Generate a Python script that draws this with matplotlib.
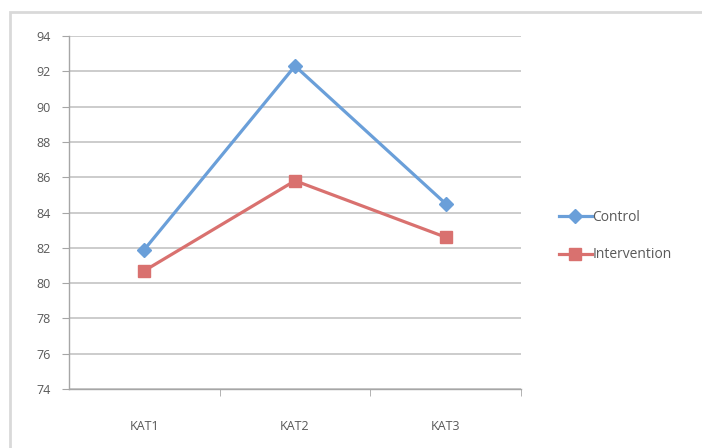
import numpy as np
import matplotlib.pyplot as plt
from matplotlib.patches import Rectangle

categories = ["KAT1", "KAT2", "KAT3"]
control = [81.9, 92.3, 84.5]
intervention = [80.7, 85.8, 82.6]
yticks = list(range(74, 95, 2))

plt.rcParams['font.family'] = ['Open Sans', 'DejaVu Sans']
text_color = "#595959"

fig = plt.figure(figsize=(7.02, 4.48), dpi=100)
# outer chart frame, cut off on the right and bottom
fig.patches.append(Rectangle((10 / 702, -0.05), 1.1, 1 - 12 / 448 + 0.05,
                             transform=fig.transFigure, fill=False,
                             edgecolor="#d9d9d9", linewidth=2))

ax = fig.add_axes([69 / 702, 1 - 389 / 448, (521 - 69) / 702, (389 - 36) / 448])
x = np.arange(1, len(categories) + 1)

ax.plot(x, control, color="#6a9fd9", linewidth=2.3, marker="D", markersize=7,
        label="Control", zorder=3)
ax.plot(x, intervention, color="#d9716f", linewidth=2.3, marker="s", markersize=8,
        label="Intervention", zorder=3)

ax.set_ylim(74, 94)
ax.set_xlim(0.5, len(categories) + 0.5)
ax.set_yticks(yticks)
ax.set_xticks(x)
ax.set_xticklabels(categories)
ax.set_xticks(np.arange(1.5, len(categories) + 0.6, 1), minor=True)

ax.grid(axis="y", color="#c4c4c4", linewidth=1.2)
ax.set_axisbelow(True)
for side in ["top", "right"]:
    ax.spines[side].set_visible(False)
for side in ["left", "bottom"]:
    ax.spines[side].set_color("#a6a6a6")
    ax.spines[side].set_linewidth(1.0)

ax.tick_params(axis="y", length=5, color="#a6a6a6", labelsize=9,
               labelcolor=text_color, pad=8)
ax.tick_params(axis="x", which="major", length=0, labelsize=9,
               labelcolor=text_color, pad=22)
ax.tick_params(axis="x", which="minor", length=5, color="#a6a6a6")

fig.legend(loc="center left", bbox_to_anchor=(546 / 702, 1 - 236 / 448),
           frameon=False, fontsize=10, labelcolor=text_color,
           handlelength=2.4, handletextpad=0.05, labelspacing=1.65)

fig.savefig("out.png", dpi=100)
